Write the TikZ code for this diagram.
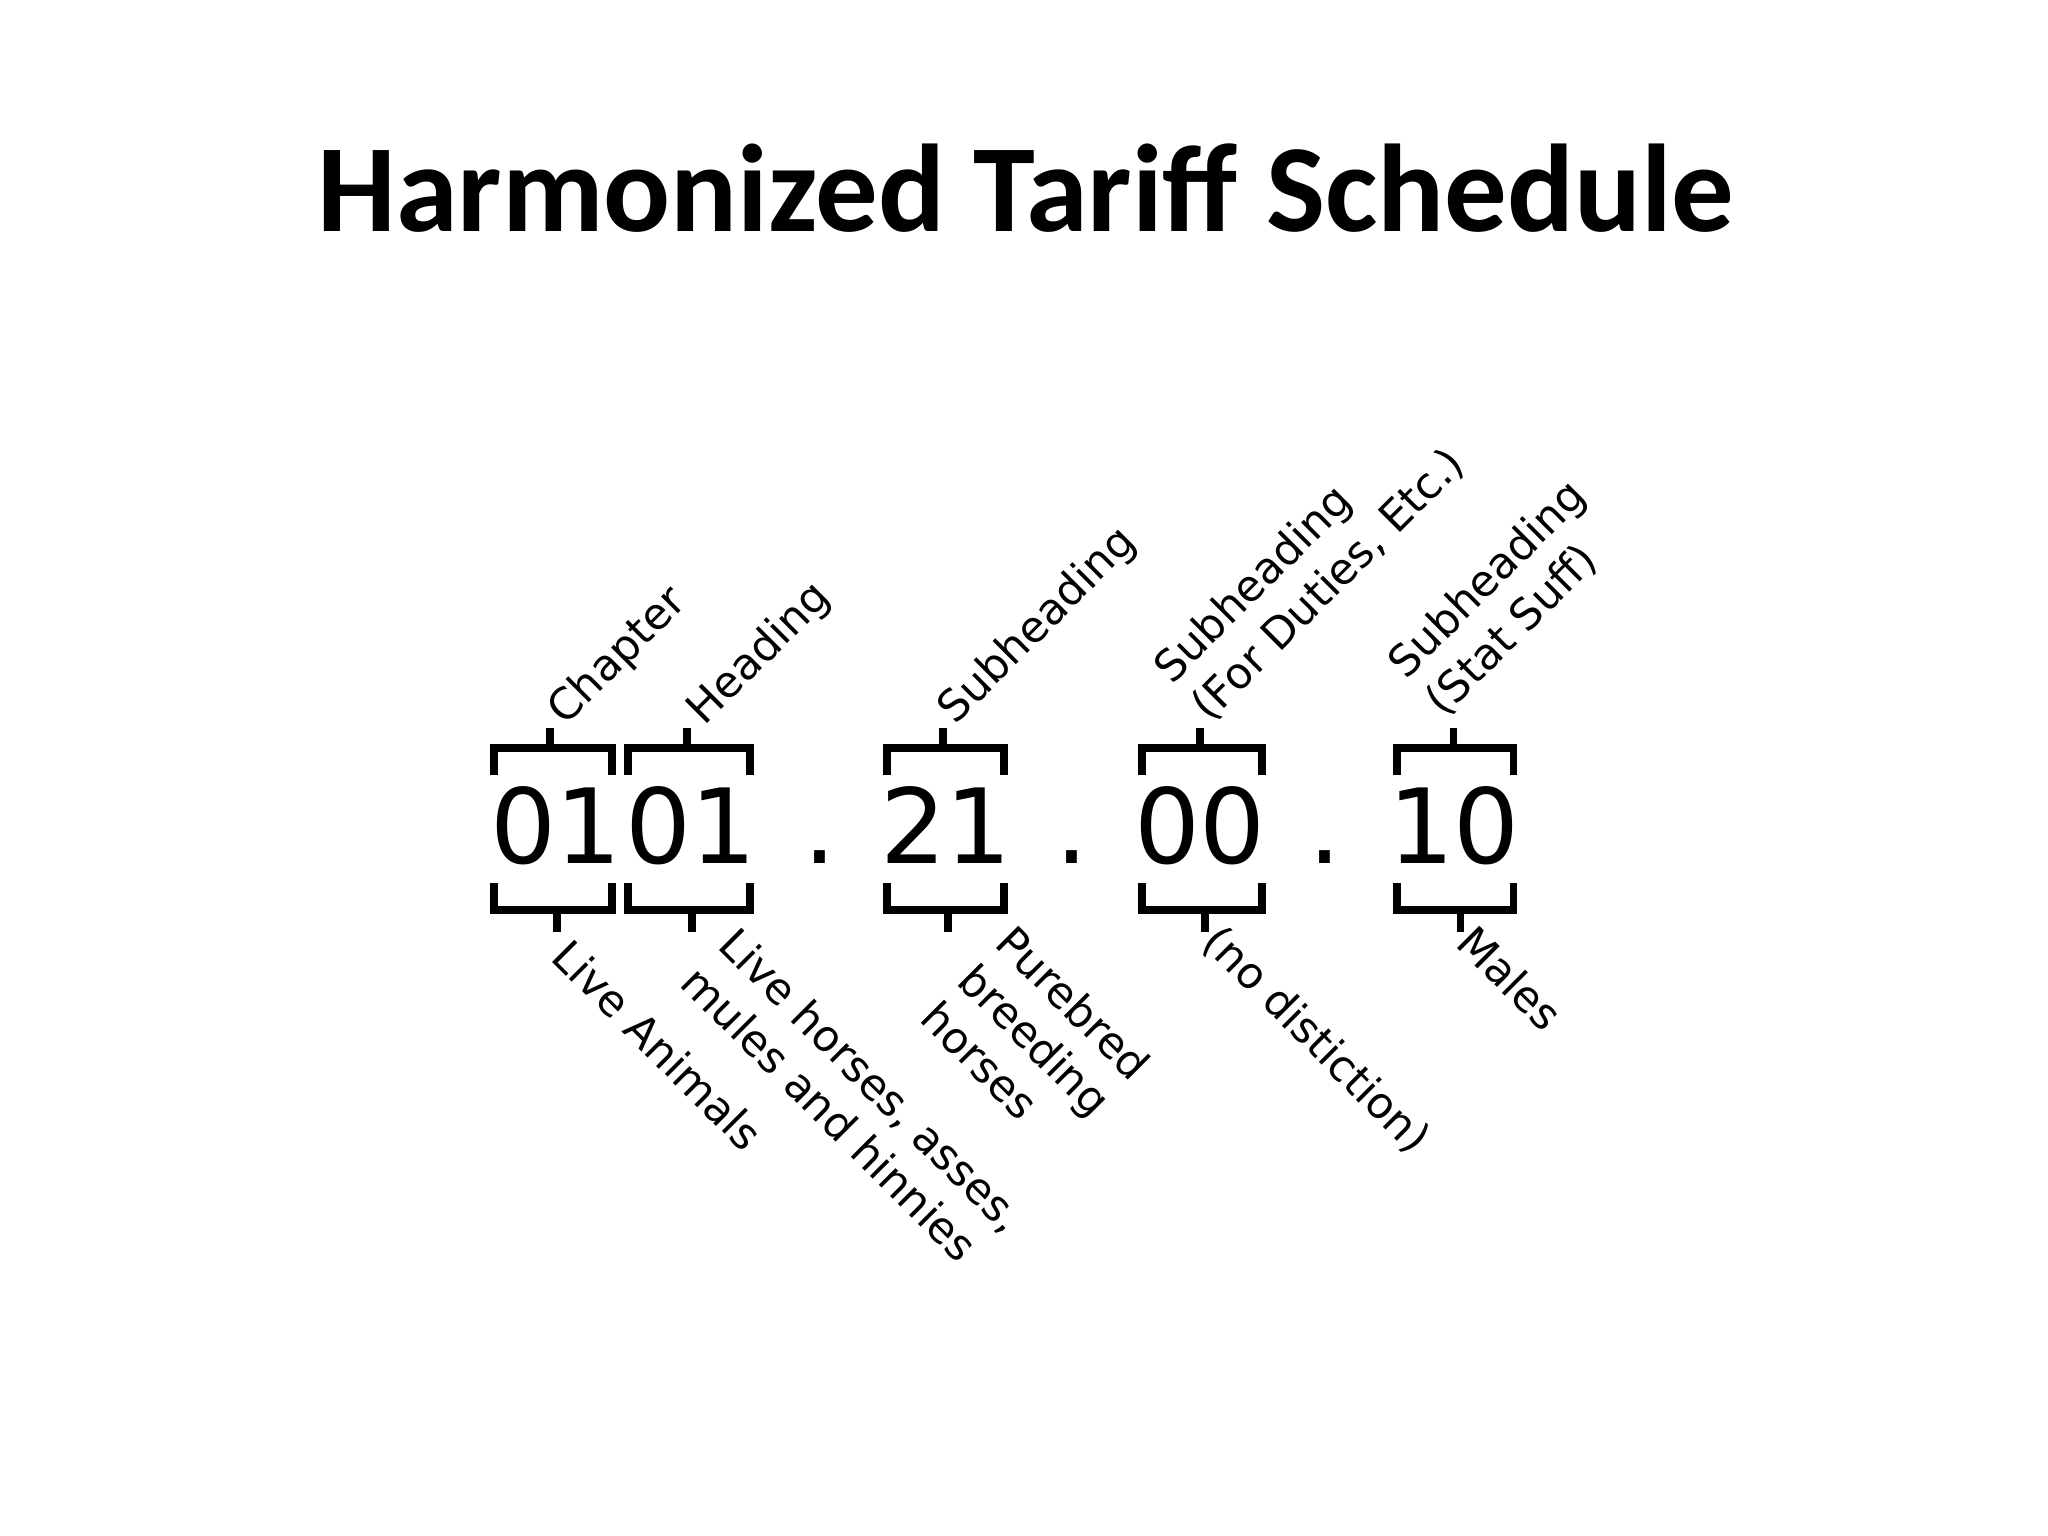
\documentclass[tikz,border=0pt]{standalone}
\usepackage{fontspec}
\setmainfont{DejaVu Sans}
\newfontfamily\titlefont{Carlito}
\usetikzlibrary{calc}

\tikzset{
  digits/.style = {anchor=base, inner sep=0pt, font=\fontsize{29.5}{30}\selectfont},
  brk/.style = {line width=2pt},
  toplab/.style = {rotate=45, anchor=south west, align=left, inner sep=0pt, font=\fontsize{12.3}{15.2}\selectfont},
  botlab/.style = {rotate=-45, anchor=north west, align=left, inner sep=0pt, font=\fontsize{12.3}{15.2}\selectfont}
}

\begin{document}
\begin{tikzpicture}[x=0.01cm, y=-0.01cm]
  \useasboundingbox[fill=white] (0,0) rectangle (2048,1536);
  \node[anchor=base, inner sep=0pt, font=\titlefont\bfseries\fontsize{35.5}{40}\selectfont] (title) at (1026,231) {Harmonized Tariff Schedule};

  % the code, group by group
  \node[digits] (ch) at (556,863) {01};
  \node[digits] (hd) at (691,863) {01};
  \node[digits] (d1) at (820,863) {.};
  \node[digits] (sh) at (946,863) {21};
  \node[digits] (d2) at (1072,863) {.};
  \node[digits] (dt) at (1200,863) {00};
  \node[digits] (d3) at (1325,863) {.};
  \node[digits] (st) at (1454,863) {10};

  % brackets above and below
  \foreach \n/\xl/\xr/\xt/\xb in {ch/494/612/550/557, hd/628/750/687/692, sh/887/1004/943/948, dt/1142/1262/1200/1205, st/1397/1513/1453/1460}{
    \draw[brk] (\xl,775) -- (\xl,748) -- (\xr,748) -- (\xr,775);
    \draw[brk] (\xt,748) -- (\xt,728) coordinate (\n-up);
    \draw[brk] (\xl,883) -- (\xl,910) -- (\xr,910) -- (\xr,883);
    \draw[brk] (\xb,910) -- (\xb,932) coordinate (\n-dn);
  }

  % what each part is
  \node[toplab] (chap) at ([shift={(22,6)}]ch-up) {Chapter};
  \node[toplab] (head) at ([shift={(24,6)}]hd-up) {Heading};
  \node[toplab] (subh) at ([shift={(19,5)}]sh-up) {Subheading};
  \node[toplab] (duty) at ([shift={(14,0)}]dt-up) {Subheading\\(For Duties, Etc.)};
  \node[toplab] (stat) at ([shift={(-5,-5)}]st-up) {Subheading\\(Stat Suff)};

  % what it means here
  \node[botlab] (live) at ([shift={(16,3)}]ch-dn) {Live Animals};
  \node[botlab] (hors) at ([shift={(48,-9)}]hd-dn) {Live horses, asses,\\mules and hinnies};
  \node[botlab] (pure) at ([shift={(69,-11)}]sh-dn) {Purebred\\breeding\\horses};
  \node[botlab] (nodi) at ([shift={(19,-12)}]dt-dn) {(no distiction)};
  \node[botlab] (male) at ([shift={(18,-11)}]st-dn) {Males};
\end{tikzpicture}
\end{document}
